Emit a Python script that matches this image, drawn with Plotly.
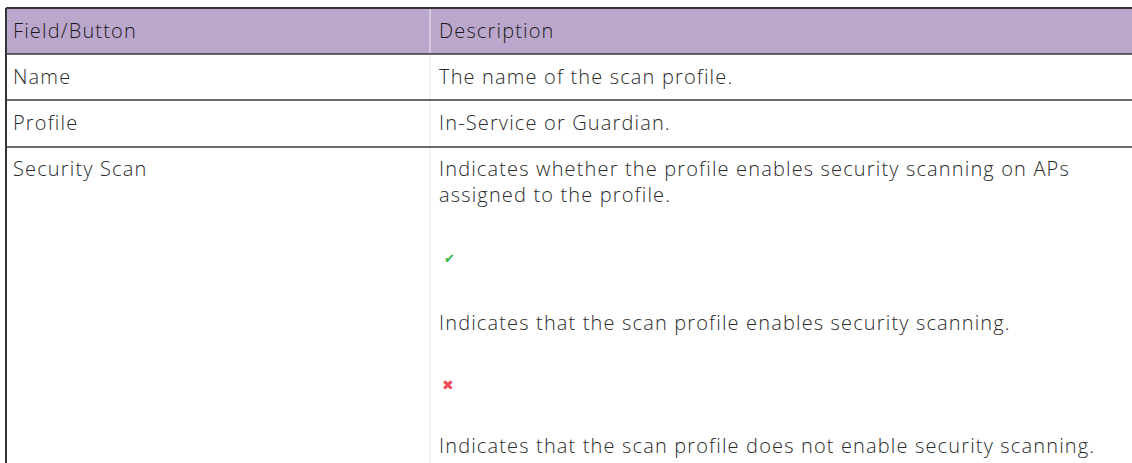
import plotly.graph_objects as go

# ---- data ----
headers = ["Field/Button", "Description"]
fields = ["Name", "Profile", "Security Scan"]
descriptions = [
    ["The name of the scan profile."],
    ["In-Service or Guardian."],
    ["Indicates whether the profile enables security scanning on APs",
     "assigned to the profile."],
]
icon_rows = [
    ("check", "Indicates that the scan profile enables security scanning."),
    ("cross", "Indicates that the scan profile does not enable security scanning."),
]

W, H = 1132, 463
FONT = "Open Sans"
TXT = "#2b2b2b"
SPACING = "1.15px"
fig = go.Figure()

left, col2 = 6, 430
top, hdr_bot = 8, 54
row_bounds = [54, 100, 147, H]

shapes = []
shapes.append(dict(type="rect", x0=left, x1=W, y0=top, y1=hdr_bot,
                   fillcolor="#bba7cc", line=dict(width=0), layer="below"))
shapes.append(dict(type="line", x0=col2, x1=col2, y0=top, y1=H,
                   line=dict(color="#ececec", width=1)))
shapes.append(dict(type="line", x0=left, x1=W, y0=top, y1=top,
                   line=dict(color="#333", width=2)))
shapes.append(dict(type="line", x0=left, x1=left, y0=top, y1=H,
                   line=dict(color="#333", width=2)))
for yb in row_bounds[:-1]:
    shapes.append(dict(type="line", x0=left, x1=W, y0=yb, y1=yb,
                       line=dict(color="#3a3a3a", width=1.6)))

ann = []
def txt(x, y, lines, color=TXT, size=20):
    if isinstance(lines, str):
        lines = [lines]
    body = "<br>".join(f'<span style="letter-spacing:{SPACING}">{s}</span>' for s in lines)
    ann.append(dict(x=x, y=y, text=body, align="left",
                    showarrow=False, xanchor="left", yanchor="top",
                    font=dict(family=FONT, size=size, color=color, weight=300)))

LINE_TOP = 16  # offset from text centre to annotation top
txt(11, 31 - LINE_TOP, headers[0], "#1a1a1a")
txt(437, 31 - LINE_TOP, headers[1], "#1a1a1a")

row_y = [77, 123, 169]
for i, f in enumerate(fields):
    txt(11, row_y[i] - LINE_TOP, f)
    txt(437, row_y[i] - LINE_TOP, descriptions[i])

icon_y = [258, 384]
text_y = [323, 446]
for k, (kind, label) in enumerate(icon_rows):
    if kind == "check":
        ann.append(dict(x=449, y=icon_y[k], text="✔", showarrow=False,
                        font=dict(size=13, color="#3bb54a"), xanchor="center", yanchor="middle"))
    else:
        ann.append(dict(x=448, y=icon_y[k], text="✖", showarrow=False,
                        font=dict(size=14, color="#f04a5a"), xanchor="center", yanchor="middle"))
    txt(437, text_y[k] - LINE_TOP, label)

fig.update_layout(
    width=W, height=H, margin=dict(l=0, r=0, t=0, b=0),
    paper_bgcolor="white", plot_bgcolor="white",
    xaxis=dict(range=[0, W], visible=False, fixedrange=True),
    yaxis=dict(range=[H, 0], visible=False, fixedrange=True),
    shapes=shapes, annotations=ann, showlegend=False,
)
fig.write_html("out.html", config={"displayModeBar": False},
               post_script="document.body.style.margin='0';")
